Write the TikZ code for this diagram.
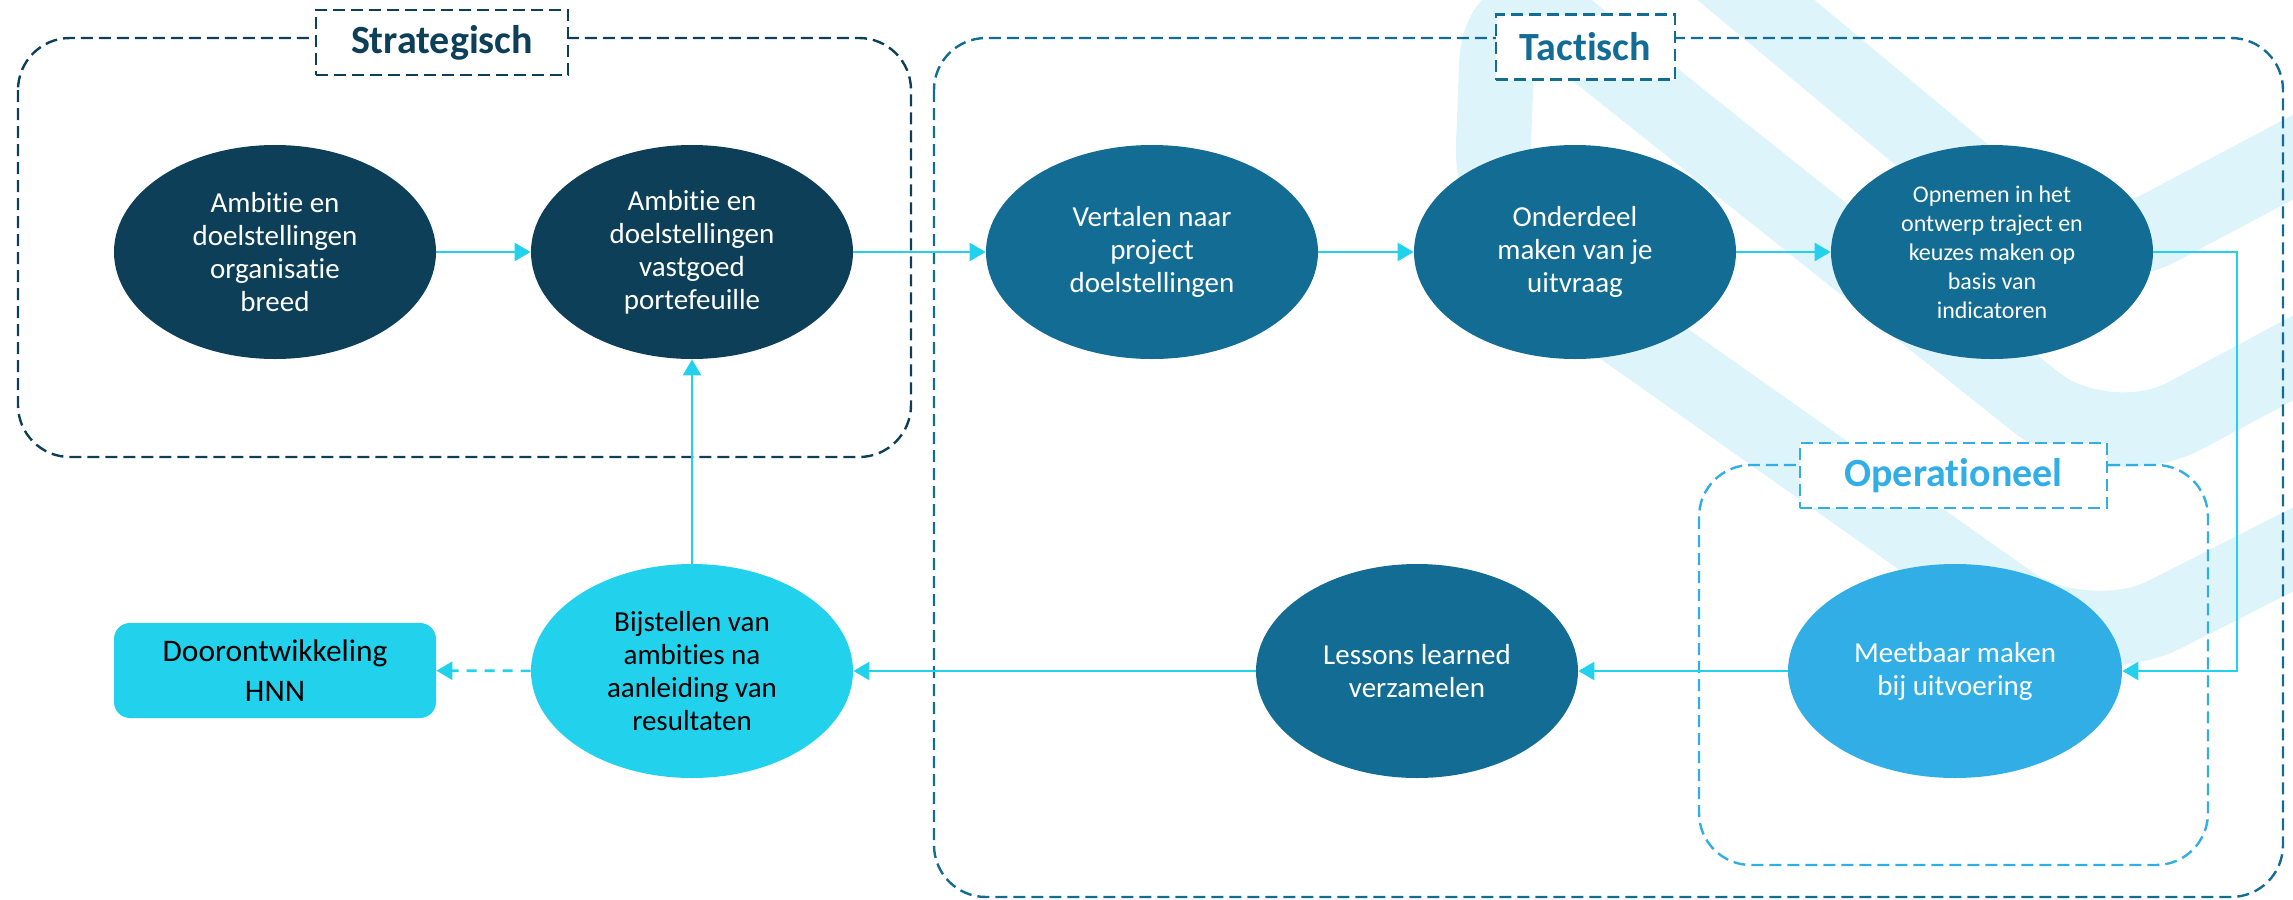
\documentclass[tikz,border=0pt]{standalone}
\usepackage{fontspec}
\setmainfont{Carlito}[Ligatures={NoCommon}]
\usetikzlibrary{shapes.geometric,arrows.meta}
\definecolor{navy}{HTML}{0D3F58}
\definecolor{tact}{HTML}{136C94}
\definecolor{oper}{HTML}{32AEE6}
\definecolor{cyanc}{HTML}{22D1EC}
\definecolor{wmark}{HTML}{DDF4FA}
\begin{document}
\begin{tikzpicture}[x=0.5pt,y=-0.5pt,
  wm/.style={draw=wmark, line width=37.5pt, rounded corners=45pt, line cap=round, line join=round},
  grp/.style={dash pattern=on 6pt off 3pt, line width=1.2pt, rounded corners=26pt},
  ttl/.style={draw, fill=white, dash pattern=on 6pt off 3pt, line width=1.2pt, font=\bfseries\fontsize{20}{24}\selectfont, inner sep=0pt, minimum height=32.5pt},
  bub/.style={ellipse, inner sep=0pt, minimum width=161pt, minimum height=107pt, align=center, font=\fontsize{14.5}{16.5}\selectfont},
  flow/.style={draw=cyanc, line width=1.3pt, -{Triangle[length=8pt,width=9pt]}},
]
\useasboundingbox (0,0) rectangle (2293,900);
\begin{scope}
\clip (0,0) rectangle (2293,900);
\draw[wm] (2420,290) -- (2106,458) -- (1500,-25) -- (1490,235) -- (2085,655) -- (2420,485);
\draw[wm] (1660,-80) -- (2080,270) -- (2420,90);
\end{scope}
% group frames
\draw[grp, navy] (18,38) rectangle (911,457);
\draw[grp, tact] (934,38) rectangle (2283,897);
\draw[grp, oper] (1699,465) rectangle (2208,865);
% nodes
\node[bub, fill=navy, text=white] (e1) at (275,252) {Ambitie en\\doelstellingen\\organisatie\\breed};
\node[bub, fill=navy, text=white] (e2) at (692,252) {Ambitie en\\doelstellingen\\vastgoed\\portefeuille};
\node[bub, fill=tact, text=white, minimum width=166pt] (e3) at (1152,252) {Vertalen naar\\project\\doelstellingen};
\node[bub, fill=tact, text=white] (e4) at (1575,252) {Onderdeel\\maken van je\\uitvraag};
\node[bub, fill=tact, text=white, font=\fontsize{12}{14.5}\selectfont] (e5) at (1992,252) {Opnemen in het\\ontwerp traject en\\keuzes maken op\\basis van\\indicatoren};
\node[bub, fill=cyanc, text=black] (e6) at (692,671) {Bijstellen van\\ambities na\\aanleiding van\\resultaten};
\node[bub, fill=tact, text=white] (e7) at (1417,671) {Lessons learned\\verzamelen};
\node[bub, fill=oper, text=white, minimum width=167pt] (e8) at (1955,671) {Meetbaar maken\\bij uitvoering};
\node[fill=cyanc, rounded corners=8pt, minimum width=161pt, minimum height=47.5pt, align=center, inner sep=0pt, font=\fontsize{15.7}{20}\selectfont] (dh) at (275,670.5) {Doorontwikkeling\\HNN};
% titles
\node[ttl, draw=navy, text=navy, minimum width=126pt] (ts) at (442,42.5) {Strategisch};
\node[ttl, draw=tact, text=tact, minimum width=89.5pt] (tt) at (1585.5,47) {Tactisch};
\node[ttl, draw=oper, text=oper, minimum width=153.5pt] (to) at (1953.5,475.5) {Operationeel};
% connectors
\coordinate (c1) at (2237,252);
\coordinate (c2) at (2237,671);
\draw[flow] (e1) -- (e2);
\draw[flow] (e2) -- (e3);
\draw[flow] (e3) -- (e4);
\draw[flow] (e4) -- (e5);
\draw[flow] (e5.east) -- (c1) -- (c2) -- (e8.east);
\draw[flow] (e8) -- (e7);
\draw[flow] (e7) -- (e6);
\draw[flow] (e6) -- (e2);
\draw[flow, dash pattern=on 5pt off 4pt] (e6) -- (dh);
\end{tikzpicture}
\end{document}
